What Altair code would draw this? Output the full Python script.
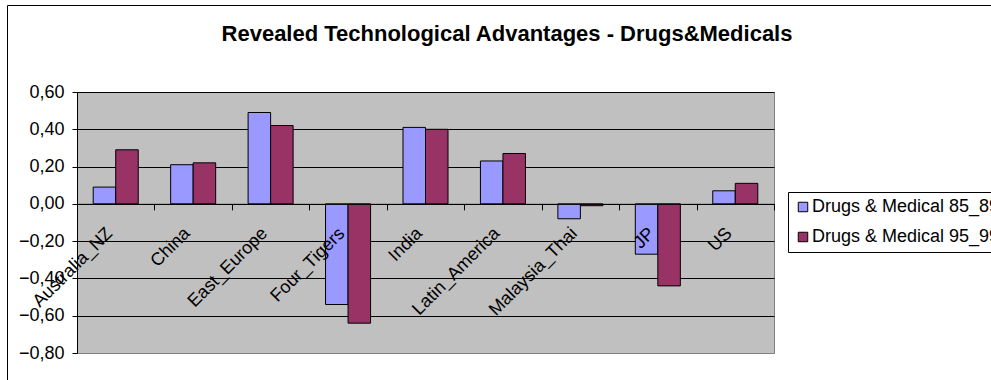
import altair as alt
import pandas as pd

# Revealed technological advantage indices, drugs & medicals, by region
regions = ["Australia_NZ", "China", "East_Europe", "Four_Tigers", "India",
           "Latin_America", "Malaysia_Thai", "JP", "US"]
rta_85_89 = [0.09, 0.21, 0.49, -0.54, 0.41, 0.23, -0.08, -0.27, 0.07]
rta_95_99 = [0.29, 0.22, 0.42, -0.64, 0.40, 0.27, -0.01, -0.44, 0.11]
series_names = ["Drugs & Medical 85_89", "Drugs & Medical 95_99"]
series_colors = ["#9999FF", "#993366"]
y_ticks = [-0.8, -0.6, -0.4, -0.2, 0.0, 0.2, 0.4, 0.6]
title_text = "Revealed Technological Advantages - Drugs&Medicals"

FONT = "Liberation Sans"
W, H = 697, 261

rows = []
for r, a, b in zip(regions, rta_85_89, rta_95_99):
    rows.append({"region": r, "series": series_names[0], "value": a})
    rows.append({"region": r, "series": series_names[1], "value": b})
df = pd.DataFrame(rows)

y_min, y_max = y_ticks[0], y_ticks[-1]
zero_offset = -H * (0 - y_min) / (y_max - y_min)

bars = alt.Chart(df).mark_bar(stroke="black", strokeWidth=1).encode(
    x=alt.X(
        "region:N", sort=regions,
        scale=alt.Scale(paddingInner=0, paddingOuter=0),
        axis=alt.Axis(
            title=None, offset=zero_offset, domainColor="black", domainWidth=1,
            tickColor="black", tickSize=6, tickBand="extent",
            labelAngle=-45, labelAlign="right", labelBaseline="bottom",
            labelPadding=27, labelFontSize=18, labelFont=FONT,
            labelColor="black", labelOverlap=False, zindex=1,
        ),
    ),
    xOffset=alt.XOffset(
        "series:N", sort=series_names,
        scale=alt.Scale(paddingInner=0, paddingOuter=0.72),
    ),
    y=alt.Y(
        "value:Q",
        scale=alt.Scale(domain=[y_min, y_max], nice=False),
        axis=alt.Axis(
            title=None, values=y_ticks,
            labelExpr="replace(format(datum.value, '.2f'), '.', ',')",
            tickSize=5, tickColor="black", domainColor="black",
            labelFontSize=18, labelFont=FONT, labelColor="black",
            labelPadding=8,
            gridColor={"condition": {"test": "datum.value < -0.79", "value": "#808080"},
                       "value": "black"},
            zindex=0,
        ),
    ),
    color=alt.Color(
        "series:N", sort=series_names,
        scale=alt.Scale(domain=series_names, range=series_colors),
        legend=alt.Legend(
            title=None, orient="none", legendX=711, legendY=100,
            strokeColor="black", fillColor="white", padding=6,
            symbolType="square", symbolSize=90, symbolStrokeColor="black",
            symbolStrokeWidth=1, symbolOpacity=1,
            labelFontSize=18, labelFont=FONT, labelColor="black",
            labelOffset=0, rowPadding=12, labelLimit=400,
        ),
    ),
)

frame_src = pd.DataFrame({"k": [0]})
frame = alt.Chart(frame_src).mark_rect(
    fillOpacity=0, stroke="black", strokeWidth=1
).encode(
    x=alt.value(-69.5), x2=alt.value(1100),
    y=alt.value(-86.5), y2=alt.value(500),
)

title = alt.Chart(frame_src).mark_text(
    text=title_text, font=FONT, fontSize=22, fontWeight="bold",
    align="center", baseline="alphabetic", color="black",
).encode(x=alt.value(430), y=alt.value(-51))

chart = alt.layer(frame, bars, title).properties(
    width=W, height=H,
    autosize=alt.AutoSizeParams(type="none"),
    padding={"left": 77, "top": 92, "right": 217, "bottom": 27},
    background="white",
).configure_view(fill="#C0C0C0", stroke="#808080", strokeWidth=1)

chart.save("out.html", embed_options={"renderer": "svg", "actions": False})
